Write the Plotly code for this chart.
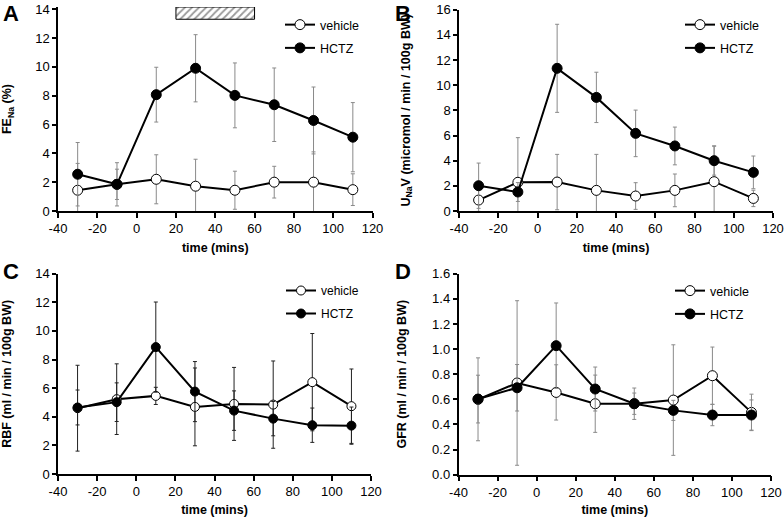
import plotly.graph_objects as go
from plotly.subplots import make_subplots

# sample times (mins)
time = [-30, -10, 10, 30, 50, 70, 90, 110]
x_ticks = [-40, -20, 0, 20, 40, 60, 80, 100, 120]

# A: fractional sodium excretion (%)
fena_vehicle = [1.44, 1.85, 2.2, 1.72, 1.44, 2.0, 2.0, 1.48]
fena_vehicle_err = [1.86, 1.05, 1.7, 1.87, 1.32, 1.1, 2.1, 1.1]
fena_hctz = [2.55, 1.85, 8.07, 9.9, 8.02, 7.37, 6.28, 5.12]
fena_hctz_err = [2.2, 1.5, 1.9, 2.33, 2.25, 2.55, 2.32, 2.4]

# B: urinary sodium excretion
unav_vehicle = [0.87, 2.28, 2.3, 1.64, 1.19, 1.64, 2.33, 1.0]
unav_vehicle_err = [0.9, 3.55, 2.2, 2.86, 1.06, 1.3, 2.85, 0.65]
unav_hctz = [2.01, 1.51, 11.34, 9.03, 6.17, 5.17, 4.0, 3.07]
unav_hctz_err = [1.8, 0.75, 3.5, 2.0, 1.85, 1.5, 1.15, 1.3]

# C: renal blood flow
rbf_vehicle = [4.6, 5.23, 5.46, 4.69, 4.9, 4.85, 6.42, 4.74]
rbf_vehicle_err = [3.0, 2.47, 0.6, 2.72, 2.55, 3.05, 3.4, 2.6]
rbf_hctz = [4.65, 5.02, 8.87, 5.76, 4.43, 3.87, 3.41, 3.38]
rbf_hctz_err = [1.22, 1.35, 3.15, 2.1, 1.38, 1.2, 1.2, 1.3]

# D: glomerular filtration rate
gfr_vehicle = [0.6, 0.73, 0.655, 0.565, 0.565, 0.594, 0.788, 0.496]
gfr_vehicle_err = [0.33, 0.655, 0.22, 0.228, 0.085, 0.44, 0.228, 0.145]
gfr_hctz = [0.602, 0.692, 1.027, 0.682, 0.565, 0.512, 0.475, 0.475]
gfr_hctz_err = [0.19, 0.185, 0.34, 0.175, 0.125, 0.08, 0.085, 0.12]

# HCTZ infusion window shown as hatched box in panel A
treat_start, treat_end = 20, 60
treat_low, treat_high = 13.3, 14.15

FONT = "Arial, Liberation Sans, sans-serif"

W, H = 784, 517


def px(x):
    return x / W


def py(y):
    return 1 - y / H


panels = [
    # (row, col, vehicle, vehicle_err, hctz, hctz_err, err colour, y title, y range, dtick, tickformat, marker size)
    (1, 1, fena_vehicle, fena_vehicle_err, fena_hctz, fena_hctz_err, "#8a8a8a",
     "FE<sub>Na</sub> (%)", [0, 14.15], 2, "", 10),
    (1, 2, unav_vehicle, unav_vehicle_err, unav_hctz, unav_hctz_err, "#8a8a8a",
     "U<sub>Na</sub>V (micromol / min / 100g BW)", [0, 16], 2, "", 10),
    (2, 1, rbf_vehicle, rbf_vehicle_err, rbf_hctz, rbf_hctz_err, "#222222",
     "RBF (ml / min / 100g BW)", [0, 14], 2, "", 9),
    (2, 2, gfr_vehicle, gfr_vehicle_err, gfr_hctz, gfr_hctz_err, "#8a8a8a",
     "GFR (ml / min / 100g BW)", [0, 1.6], 0.2, ".1f", 10),
]

fig = make_subplots(rows=2, cols=2)

for i, (r, c, veh, veh_e, hz, hz_e, ecol, ytitle, yrng, dt, tf, msize) in enumerate(panels):
    leg = "legend" if i == 0 else f"legend{i + 1}"
    fig.add_trace(
        go.Scatter(
            x=time, y=veh, name="vehicle", mode="lines+markers",
            line={"color": "black", "width": 2},
            marker={"symbol": "circle", "size": msize, "color": "white",
                    "line": {"color": "black", "width": 1}},
            error_y={"type": "data", "array": veh_e, "color": ecol,
                     "thickness": 1, "width": 2},
            legend=leg, legendgroup=f"v{i}",
        ),
        row=r, col=c,
    )
    fig.add_trace(
        go.Scatter(
            x=time, y=hz, name="HCTZ", mode="lines+markers",
            line={"color": "black", "width": 2},
            marker={"symbol": "circle", "size": msize, "color": "black",
                    "line": {"color": "black", "width": 1}},
            error_y={"type": "data", "array": hz_e, "color": ecol,
                     "thickness": 1, "width": 2},
            legend=leg, legendgroup=f"h{i}",
        ),
        row=r, col=c,
    )
    fig.update_yaxes(
        range=yrng, dtick=dt, tick0=0, tickformat=tf,
        title={"text": f"<b>{ytitle}</b>",
               "font": {"size": 12.5, "family": FONT, "color": "black"},
               "standoff": 23},
        row=r, col=c,
    )

fig.add_trace(
    go.Bar(
        x=[(treat_start + treat_end) / 2], y=[treat_high - treat_low], base=[treat_low],
        width=[treat_end - treat_start],
        marker={"color": "white", "line": {"color": "black", "width": 1},
                "pattern": {"shape": "/", "fgcolor": "#333333", "bgcolor": "white",
                            "size": 5, "solidity": 0.35}},
        showlegend=False, hoverinfo="skip",
    ),
    row=1, col=1,
)

fig.update_xaxes(
    range=[-40, 120], tickvals=x_ticks, ticktext=[str(t) for t in x_ticks],
    showline=True, linecolor="black", linewidth=1.5,
    ticks="outside", ticklen=5, tickwidth=1.5, tickcolor="black",
    showgrid=False, zeroline=False, automargin=False,
    tickfont={"size": 13, "family": FONT, "color": "black"},
    title={"text": "<b>time (mins)</b>",
           "font": {"size": 12.5, "family": FONT, "color": "black"}, "standoff": 8},
)
fig.update_yaxes(
    showline=True, linecolor="black", linewidth=1.5,
    ticks="outside", ticklen=4, tickwidth=1.5, tickcolor="black",
    showgrid=False, zeroline=False, automargin=False,
    tickfont={"size": 13, "family": FONT, "color": "black"},
)

fig.update_layout(
    xaxis={"domain": [px(58), px(372.5)]},
    xaxis2={"domain": [px(459), px(773)]},
    xaxis3={"domain": [px(58), px(371)]},
    xaxis4={"domain": [px(458.5), px(771)]},
    yaxis={"domain": [py(211), py(7)]},
    yaxis2={"domain": [py(211), py(9.7)]},
    yaxis3={"domain": [py(474), py(273.7)]},
    yaxis4={"domain": [py(474.7), py(273.7)]},
)

leg_style = {
    "font": {"size": 12.5, "family": FONT, "color": "black"},
    "bgcolor": "rgba(0,0,0,0)", "itemwidth": 30,
    "tracegroupgap": 4, "traceorder": "grouped",
    "xanchor": "left", "yanchor": "top",
}
fig.update_layout(
    legend={**leg_style, "x": px(280), "y": py(10)},
    legend2={**leg_style, "x": px(680), "y": py(10)},
    legend3={**leg_style, "x": px(281), "y": py(276),
             "font": {"size": 12, "family": FONT, "color": "black"}},
    legend4={**leg_style, "x": px(670), "y": py(276)},
)

for label, xp, yp in [("A", 0, 0), ("B", 392, 0), ("C", 0, 258), ("D", 392, 258)]:
    fig.add_annotation(
        text=f"<b>{label}</b>", x=px(xp + 1), y=py(yp - 1),
        xref="paper", yref="paper", xanchor="left", yanchor="top",
        showarrow=False, font={"size": 22, "family": FONT, "color": "black"},
    )

fig.update_layout(
    width=W, height=H,
    margin={"l": 0, "r": 0, "t": 0, "b": 0, "autoexpand": False},
    plot_bgcolor="white", paper_bgcolor="white",
    barmode="overlay",
)

# drop the browser's default 8px page margin so the figure sits at the window origin
fig.write_html(
    "out.html",
    config={"displayModeBar": False},
    post_script="document.body.style.margin = '0';",
)
